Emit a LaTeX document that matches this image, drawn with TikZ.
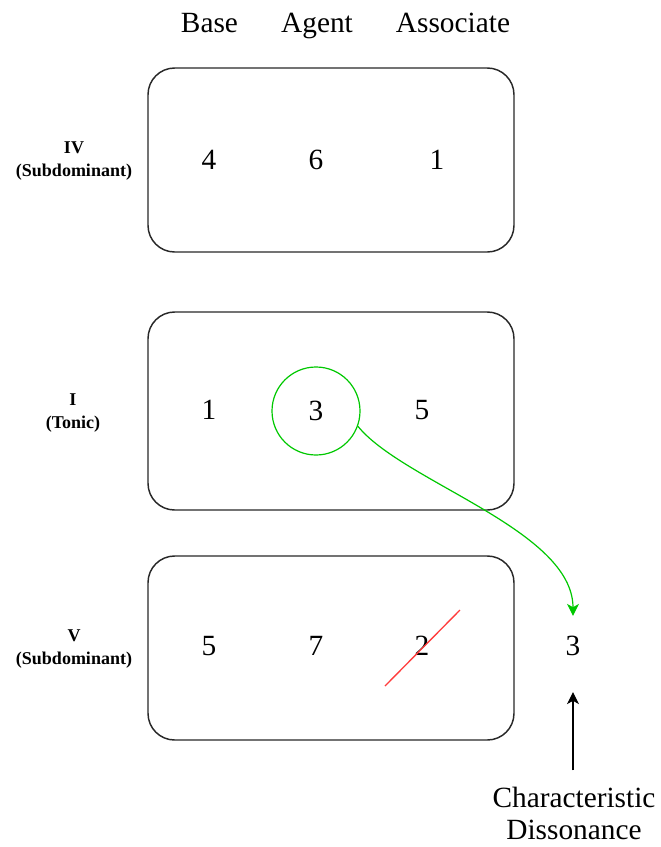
\documentclass[tikz,border=0pt]{standalone}
\usepackage{fontspec}
\setmainfont{Liberation Serif}
\usetikzlibrary{arrows.meta}
\definecolor{grn}{RGB}{0,200,0}
\definecolor{strikered}{RGB}{255,60,60}
\definecolor{edge}{RGB}{40,40,40}
\begin{document}
\begin{tikzpicture}[x=0.75pt,y=-0.75pt,
  chordbox/.style={draw=edge, line width=1.1pt, rounded corners=20pt,
    minimum width=274.5pt, inner sep=0pt},
  big/.style={font=\fontsize{22}{24.5}\selectfont, inner sep=0pt},
  rowlabel/.style={font=\bfseries\fontsize{13.5}{17}\selectfont, align=center, inner sep=0pt},
  ring/.style={circle, draw=grn, line width=0.9pt, minimum size=66pt, inner sep=0pt,
    font=\fontsize{22}{24.5}\selectfont},
  flow/.style={draw=grn, line width=0.9pt, -{Stealth[length=9pt,width=9pt,inset=2.5pt]}},
  pointer/.style={draw=black, line width=0.9pt, -{Stealth[length=9pt,width=9pt,inset=2.5pt]}},
  strike/.style={draw=strikered, line width=1pt}
]
\useasboundingbox (0,0) rectangle (661,847);

% column headings
\node[big, anchor=base] (hbase)  at (209.5,32) {Base};
\node[big, anchor=base] (hagent) at (317,32) {Agent};
\node[big, anchor=base] (hassoc) at (453,32) {Associate};

% chord boxes
\node[chordbox, minimum height=138pt]   (boxIV) at (331,160) {};
\node[chordbox, minimum height=148.5pt] (boxI)  at (331,411) {};
\node[chordbox, minimum height=138pt]   (boxV)  at (331,648) {};

% row labels
\node[rowlabel] (lIV) at (74,161) {IV\\(Subdominant)};
\node[rowlabel] (lI)  at (73,413) {I\\(Tonic)};
\node[rowlabel] (lV)  at (74,649) {V\\(Subdominant)};

% IV chord
\node[big] (n4) at (209,160) {4};
\node[big] (n6) at (316,160) {6};
\node[big] (n1a) at (437,160) {1};

% I chord
\node[big] (n1) at (209,410) {1};
\node[ring] (n3) at (316,411) {3};
\node[big] (n5) at (422,410) {5};

% V chord
\node[big] (n5b) at (209,646) {5};
\node[big] (n7) at (316,646) {7};
\node[big] (n2) at (422,646) {2};
\draw[strike] ([shift={(-37,40)}]n2.center) -- ([shift={(38,-36)}]n2.center);

% characteristic dissonance
\node[big] (d3) at (573,646) {3};
\node[big, align=center, font=\fontsize{22}{24}\selectfont] (cd) at (574,813)
  {Characteristic\\Dissonance};

\draw[flow, shorten >=15pt] (n3.-20) .. controls (403,482) and (573,530) .. (d3.north);
\draw[pointer, shorten >=27pt, shorten <=12pt] (cd.north -| d3.south) -- (d3.south);
\end{tikzpicture}
\end{document}
